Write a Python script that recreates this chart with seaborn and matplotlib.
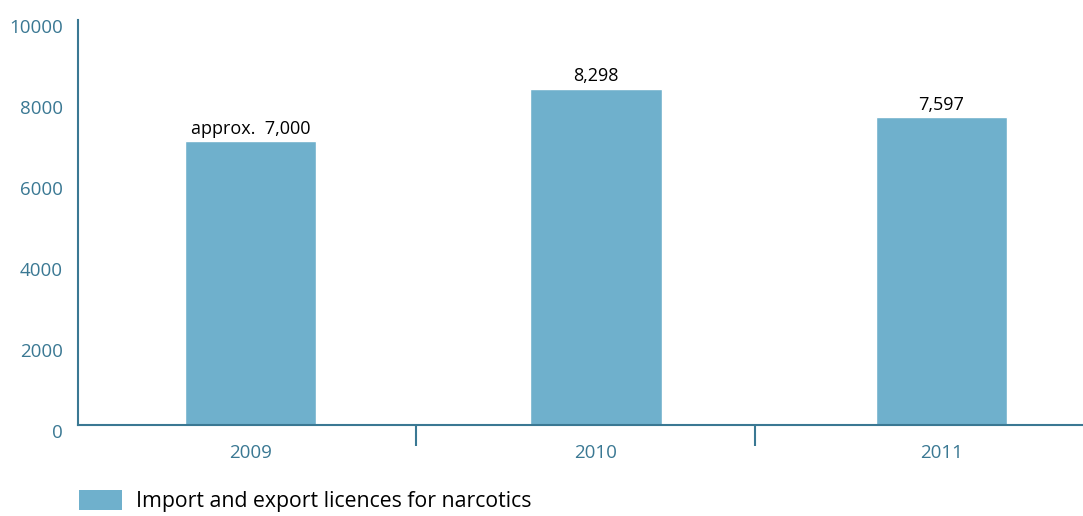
import matplotlib
matplotlib.use("Agg")
import matplotlib.pyplot as plt
import matplotlib.transforms as mtransforms
from matplotlib.patches import Patch
import seaborn as sns
import pandas as pd

# =====================================================
# Data
# =====================================================

years = ["2009", "2010", "2011"]
licences = [7000, 8298, 7597]
bar_labels = ["approx.  7,000", "8,298", "7,597"]
y_ticks = [0, 2000, 4000, 6000, 8000, 10000]
legend_label = "Import and export licences for narcotics"

df = pd.DataFrame({"year": years, "licences": licences})

# =====================================================
# Style
# =====================================================

sns.set_theme(style="white")
plt.rcParams["font.family"] = ["Open Sans", "DejaVu Sans"]

axis_col = "#3a7893"
bar_col = "#6fb0cc"

fig = plt.figure(figsize=(10.83, 5.16), dpi=100)
ax = fig.add_axes([0.072, 0.1764, 0.928, 0.785])

sns.barplot(
    data=df,
    x="year",
    y="licences",
    color=bar_col,
    width=0.38,
    saturation=1,
    ax=ax
)

# labels above bars
for i, (val, lab) in enumerate(zip(licences, bar_labels)):
    ax.text(i, val + 90, lab, ha="center", va="bottom",
            fontsize=13, color="black")

ax.set_xlim(-0.5, 2.41)
ax.set_ylim(0, 10000)
ax.set_yticks(y_ticks)
ax.set_xlabel("")
ax.set_ylabel("")

for side in ["top", "right"]:
    ax.spines[side].set_visible(False)
for side in ["left", "bottom"]:
    ax.spines[side].set_color(axis_col)
    ax.spines[side].set_linewidth(1.5)

ax.tick_params(axis="y", length=0, pad=11, labelsize=13.5, labelcolor=axis_col)
ax.tick_params(axis="x", which="major", length=0, pad=14,
               labelsize=13.5, labelcolor=axis_col)

# separators between categories
ax.set_xticks([0.48, 1.46], minor=True)
ax.tick_params(axis="x", which="minor", direction="out", length=15,
               width=1.5, color=axis_col, bottom=True)

# nudge y tick labels slightly down
offset = mtransforms.ScaledTranslation(0, -6 / 100, fig.dpi_scale_trans)
for lbl in ax.get_yticklabels():
    lbl.set_transform(lbl.get_transform() + offset)

# =====================================================
# Legend
# =====================================================

handle = Patch(facecolor=bar_col, edgecolor="none", label=legend_label)
fig.legend(
    handles=[handle],
    loc="lower left",
    bbox_to_anchor=(0.055, -0.03),
    frameon=False,
    fontsize=15.3,
    labelcolor="black",
    handlelength=2.05,
    handleheight=1.05,
    handletextpad=0.65
)

fig.savefig("out.png", dpi=100)
plt.close()
